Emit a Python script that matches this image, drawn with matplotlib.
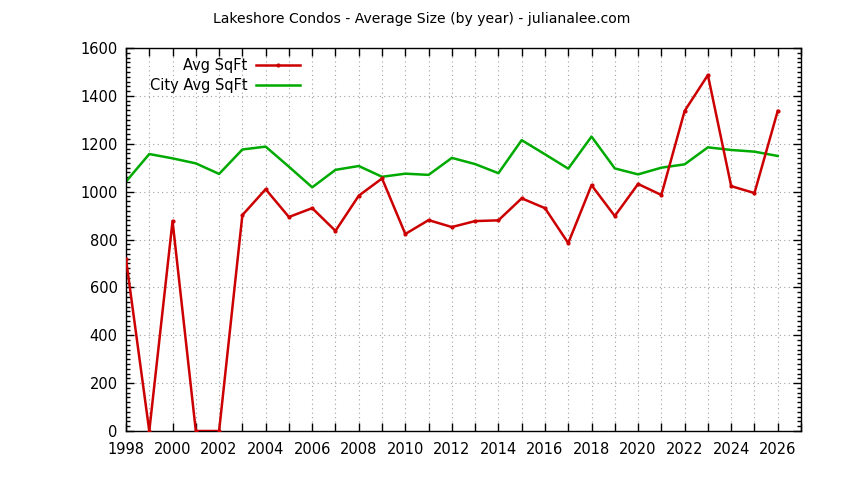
import matplotlib.pyplot as plt
from matplotlib.ticker import MultipleLocator
from matplotlib.lines import Line2D

# values
years = list(range(1998, 2027))
avg_sqft = [718, 0, 877, 0, 0, 902, 1010, 894, 931, 836, 983, 1055, 823, 881,
            852, 877, 880, 972, 931, 785, 1027, 898, 1032, 986, 1337, 1487,
            1023, 994, 1337]
city_avg_sqft = [1042, 1157, 1139, 1118, 1074, 1176, 1188, 1104, 1018, 1091,
                 1107, 1062, 1075, 1070, 1141, 1115, 1077, 1215, 1156, 1096,
                 1230, 1097, 1072, 1100, 1114, 1185, 1174, 1167, 1149]

plt.rcParams['font.family'] = ['DejaVu Sans']
fig = plt.figure(figsize=(8.44, 4.8), dpi=100)
ax = fig.add_axes([126 / 844, 1 - 431 / 480, 675 / 844, 383 / 480])

ax.plot(years, avg_sqft, color='#cc0000', lw=1.8, marker='.', ms=4, zorder=3)
ax.plot(years, city_avg_sqft, color='#00aa00', lw=1.8, zorder=2)

ax.set_xlim(1998, 2027)
ax.set_ylim(0, 1600)
ax.xaxis.set_major_locator(MultipleLocator(2))
ax.xaxis.set_minor_locator(MultipleLocator(1))
ax.yaxis.set_major_locator(MultipleLocator(200))
ax.yaxis.set_minor_locator(MultipleLocator(20))
ax.tick_params(which='both', direction='in', top=True, right=True,
               labelsize=10.5, colors='black', width=1)
ax.tick_params(which='major', length=6)
ax.tick_params(axis='x', which='major', pad=8)
ax.tick_params(axis='y', which='major', pad=6)
ax.tick_params(axis='x', which='minor', length=6)
ax.tick_params(axis='y', which='minor', length=3)
ax.grid(True, which='major', axis='y', color='#a0a0a0', ls=(0, (1, 3)), lw=0.8)
ax.grid(True, which='both', axis='x', color='#a0a0a0', ls=(0, (1, 3)), lw=0.8)
for s in ax.spines.values():
    s.set_linewidth(1)
    s.set_color('black')

fig.text(0.5, 1 - 19 / 480, 'Lakeshore Condos - Average Size (by year) - julianalee.com',
         ha='center', va='center', fontsize=10.1)

# gnuplot-style key: text right-aligned, sample to the right
handles = [Line2D([], [], color='#cc0000', lw=1.8, marker='.', ms=4, markevery=[1]),
           Line2D([], [], color='#00aa00', lw=1.8)]
leg = ax.legend(handles, ['Avg SqFt', 'City Avg SqFt'], loc='upper left',
                bbox_to_anchor=(0.016, 1.008), frameon=False, markerfirst=False,
                fontsize=10.5, handlelength=3.0, handletextpad=0.6,
                labelspacing=0.35, borderaxespad=0.5)
for t in leg.get_texts():
    t.set_ha('right')
leg._legend_box.align = 'right'

fig.savefig('out.png', dpi=100)
